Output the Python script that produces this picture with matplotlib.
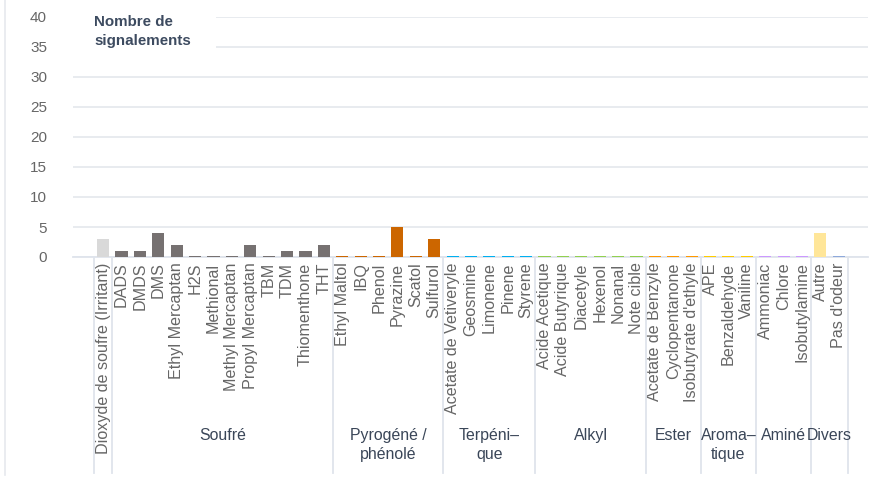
import matplotlib
matplotlib.use("Agg")
import matplotlib.pyplot as plt
from matplotlib.patches import Rectangle
from matplotlib.lines import Line2D
import numpy as np

plt.rcParams['font.family'] = ['Liberation Sans', 'DejaVu Sans']

categories = [
    "Dioxyde de soufre (Irritant)",
    "DADS", "DMDS", "DMS", "Ethyl Mercaptan", "H2S", "Methional", "Methyl Mercaptan",
    "Propyl Mercaptan", "TBM", "TDM", "Thiomenthone", "THT",
    "Ethyl Maltol", "IBQ", "Phenol", "Pyrazine", "Scatol", "Sulfurol",
    "Acetate de Vetiveryle", "Geosmine", "Limonene", "Pinene", "Styrene",
    "Acide Acetique", "Acide Butyrique", "Diacetyle", "Hexenol", "Nonanal", "Note cible",
    "Acetate de Benzyle", "Cyclopentanone", "Isobutyrate d'ethyle",
    "APE", "Benzaldehyde", "Vaniline",
    "Ammoniac", "Chlore", "Isobutylamine",
    "Autre", "Pas d'odeur",
]
values = [
    3,
    1, 1, 4, 2, 0, 0, 0, 2, 0, 1, 1, 2,
    0, 0, 0, 5, 0, 3,
    0, 0, 0, 0, 0,
    0, 0, 0, 0, 0, 0,
    0, 0, 0,
    0, 0, 0,
    0, 0, 0,
    4, 0,
]
group_labels = ["", "Soufré", "Pyrogéné /\nphénolé", "Terpéni–\nque", "Alkyl", "Ester",
                "Aroma–\ntique", "Aminé", "Divers"]
group_sizes = [1, 12, 6, 5, 6, 3, 3, 3, 2]
group_colors = ["#d9d9d9", "#767171", "#cc6600", "#00b0f0", "#92d050", "#ff9900",
                "#ffcc00", "#cc99ff", None]
divers_colors = ["#ffe699", "#8ea9db"]
y_ticks = [0, 5, 10, 15, 20, 25, 30, 35, 40]
title = "Nombre de\nsignalements"

colors = []
for g, n in enumerate(group_sizes):
    if group_colors[g] is None:
        colors.extend(divers_colors[:n])
    else:
        colors.extend([group_colors[g]] * n)

W, H = 891, 479
fig = plt.figure(figsize=(W / 100, H / 100), dpi=100)
ax_left, ax_right, ax_top, ax_bottom = 73, 868, 17, 257
ax = fig.add_axes([ax_left / W, 1 - ax_bottom / H, (ax_right - ax_left) / W, (ax_bottom - ax_top) / H])

x = np.arange(len(categories))
min_len = 0.2
heights = [max(v, min_len) for v in values]
ax.bar(x, heights, width=0.66, color=colors, zorder=3)

ax.set_xlim(-1.64, 41.59)
ax.set_ylim(0, 40)
ax.set_yticks(y_ticks)
ax.set_yticklabels([str(t) for t in y_ticks], fontsize=11, color="#666666")
ax.yaxis.grid(True, color="#e6e9ee", linewidth=1.3, zorder=0)
ax.tick_params(axis='y', length=0, pad=26 * 0.72)
for s in ["top", "right", "left"]:
    ax.spines[s].set_visible(False)
ax.spines["bottom"].set_color("#dfe4ec")
ax.spines["bottom"].set_linewidth(1.3)

ax.set_xticks(x)
ax.set_xticklabels(categories, rotation=90, fontsize=11.6, color="#666666", va="top", ha="center")
ax.tick_params(axis='x', length=0, pad=4)

# group separators and labels
trans = ax.get_xaxis_transform()
bottom_y = -(473 - ax_bottom) / (ax_bottom - ax_top)
label_y = -(428 - ax_bottom) / (ax_bottom - ax_top)
start = 0
bounds = [-0.5]
for n in group_sizes:
    start += n
    bounds.append(start - 0.5)
for b in bounds:
    ax.add_line(Line2D([b, b], [0, bottom_y], transform=trans, color="#dfe4ec",
                       linewidth=1.3, clip_on=False))
for g, lab in enumerate(group_labels):
    if not lab:
        continue
    cx = (bounds[g] + bounds[g + 1]) / 2
    ax.text(cx, label_y, lab, transform=trans, ha="center", va="top", fontsize=11.4,
            color="#3a4658", linespacing=1.35, clip_on=False)

# title with white background hiding gridlines
fig.add_artist(Rectangle((ax_left / W, 1 - 57 / H), (216 - ax_left) / W, 57 / H,
                         transform=fig.transFigure, facecolor="white", edgecolor="none", zorder=1))
fig.text(94 / W, 1 - 15 / H, title, ha="left", va="top", fontsize=10.9, fontweight="bold",
         color="#3d4b60", linespacing=1.45, zorder=2)

# left container border
fig.add_artist(Line2D([4.5 / W, 4.5 / W], [1 - 475 / H, 1], transform=fig.transFigure,
                      color="#e6e9ee", linewidth=1.2))

fig.savefig("out.png", dpi=100)
